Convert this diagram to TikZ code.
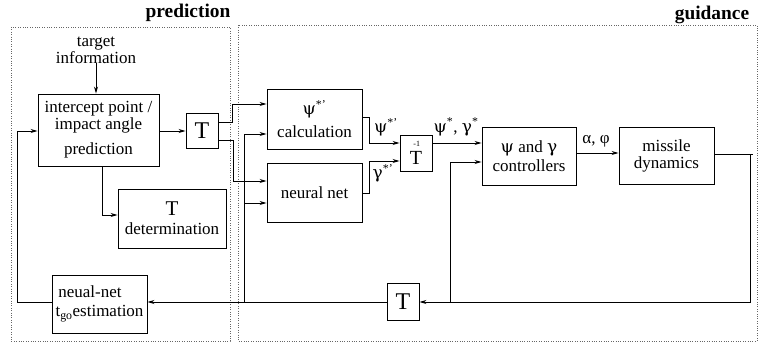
\documentclass[tikz,border=0pt]{standalone}
\usepackage{fontspec}
\setmainfont{Liberation Serif}
\newfontfamily\grk{DejaVu Serif}
\newcommand{\gpsi}{{\grk ψ}}
\newcommand{\ggam}{{\grk γ}}
\usetikzlibrary{arrows.meta}
\begin{document}
\begin{tikzpicture}[x=1pt,y=-1pt,
  blk/.style={draw,line width=0.9pt,inner sep=0pt,align=center,font=\fontsize{17}{15}\selectfont},
  tbox/.style={blk,minimum width=32pt,minimum height=36pt,font=\fontsize{24}{24}\selectfont},
  arr/.style={line width=0.9pt,-{Stealth[length=7pt,width=4pt]}},
  ln/.style={line width=0.9pt},
  region/.style={draw=black!60,line width=0.7pt,dash pattern=on 0.8pt off 1.6pt},
  txt/.style={font=\fontsize{17}{15}\selectfont,inner sep=0pt,align=center},
  ttl/.style={font=\fontsize{19.4}{20}\selectfont\bfseries,inner sep=0pt},
]
\useasboundingbox (0,0) rectangle (762,345);
% regions
\draw[region] (11,27) rectangle (230,341);
\draw[region] (238,25) rectangle (757,341);
\node[ttl] (ptitle) at (188,13) {prediction};
\node[ttl] (gtitle) at (712,15) {guidance};
% blocks
\node[txt] (target) at (96,50) {target\\information};
\node[blk,minimum width=121pt,minimum height=72pt] (intercept) at (98.5,130)
  {intercept point /\\impact angle\\[9pt]prediction};
\node[tbox,minimum height=35pt] (T1) at (202,130.5) {T};
\node[blk,minimum width=95pt,minimum height=60pt] (psi) at (314.5,119)
  {\gpsi\textsuperscript{*'}\\[6pt]calculation};
\node[blk,minimum width=95pt,minimum height=59pt] (nn) at (314.5,192.5) {neural net};
\node[tbox] (Tinv) at (416,153)
  {\shortstack{{\fontsize{8}{8}\selectfont\,-1}\\[1.5pt]{\fontsize{20}{20}\selectfont T}}};
\node[blk,minimum width=94pt,minimum height=58pt] (ctrl) at (529,156) {\gpsi\ and \ggam\\[2pt]controllers};
\node[blk,minimum width=95pt,minimum height=57pt] (miss) at (666.5,155.5) {missile\\[2pt]dynamics};
\node[blk,minimum width=108pt,minimum height=59pt] (Tdet) at (172,218.5)
  {{\fontsize{21}{21}\selectfont T}\\[4pt]determination};
\node[blk,minimum width=95pt,minimum height=58pt,align=left] (est) at (99.5,304)
  {\,neual-net\\[4pt]t\textsubscript{go}estimation};
\node[tbox,minimum height=37pt] (T2) at (403,301.5) {T};
% labels
\node[txt] (lpsi) at (386,127) {\gpsi\textsuperscript{*'}};
\node[txt] (lgam) at (383,173) {\ggam\textsuperscript{*'}};
\node[txt] (lpg) at (456,127) {\gpsi\textsuperscript{*}, \ggam\textsuperscript{*}};
\node[txt] (lap) at (596,141) {α, φ};
% junctions
\coordinate (j1) at (244,302);
\coordinate (j2) at (450,302);
\coordinate (j3) at (750,154);
\coordinate (oend) at (753,154);
% connectors
\draw[arr] (target.south) -- (target.south |- intercept.north);
\draw[arr] (intercept.east |- 0,131) -- (T1.west |- 0,131);
\draw[arr] (T1.east |- 0,122) -- (232,122) -- (232,104) -- (psi.west |- 0,104);
\draw[arr] (T1.east |- 0,140) -- (233,140) -- (233,181) -- (nn.west |- 0,181);
\draw[arr] (j1) -- (244,134) -- (psi.west |- 0,134);
\draw[arr] (244,203) -- (nn.west |- 0,203);
\draw[arr] (psi.east |- 0,117) -- (369,117) -- (369,143) -- (Tinv.west |- 0,143);
\draw[arr] (nn.east |- 0,193) -- (369,193) -- (369,161) -- (Tinv.west |- 0,161);
\draw[arr] (Tinv.east |- 0,143) -- (ctrl.west |- 0,143);
\draw[arr] (ctrl.east |- 0,153) -- (miss.west |- 0,153);
\draw[ln] (miss.east |- 0,154) -- (oend);
\draw[arr] (j3) -- (750,302) -- (T2.east |- 0,302);
\draw[arr] (j2) -- (450,162) -- (ctrl.west |- 0,162);
\draw[arr] (T2.west |- 0,302) -- (est.east |- 0,302);
\draw[arr] (est.west |- 0,302) -- (17,302) -- (17,131) -- (intercept.west |- 0,131);
\draw[arr] (intercept.south -| 102,0) -- (102,215) -- (Tdet.west |- 0,215);
\end{tikzpicture}
\end{document}
